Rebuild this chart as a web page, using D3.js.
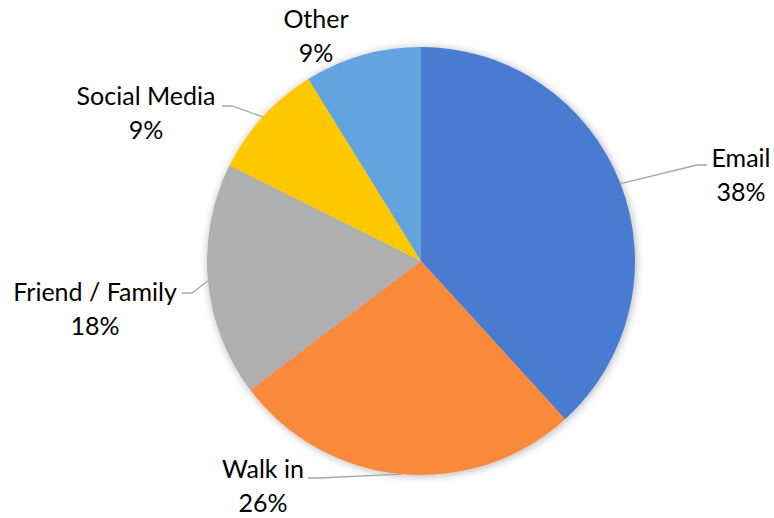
<!DOCTYPE html>
<html>
<head>
<meta charset="utf-8">
<script src="https://cdn.jsdelivr.net/npm/d3@7"></script>
<style>
  body { margin: 0; background: #fff; }
  text { font-family: Lato, "Open Sans", sans-serif; fill: #000; }
</style>
</head>
<body>
<div id="chart"></div>
<script>
// data: survey responses (how people heard about us)
var categories = ["Email", "Walk in", "Friend / Family", "Social Media", "Other"];
var counts = [13, 9, 6, 3, 3];
var colors = ["#4a7bd1", "#f98a3a", "#afafaf", "#fec805", "#62a3e0"];

// label layout: text centre x, first baseline y, leader end point
var labelX = [741, 263, 95, 146, 316];
var labelY = [167, 478, 301, 105, 28];
var leaderEnd = [[707, 165], [308, 478], [182, 293], [222, 106], null];

var width = 774, height = 518;
var cx = 421, cy = 261, radius = 214;

var svg = d3.select("#chart").append("svg")
    .attr("width", width)
    .attr("height", height);

var defs = svg.append("defs");
var filter = defs.append("filter")
    .attr("id", "shadow")
    .attr("x", "-20%").attr("y", "-20%")
    .attr("width", "140%").attr("height", "140%");
filter.append("feDropShadow")
    .attr("dx", 1).attr("dy", 1)
    .attr("stdDeviation", 4)
    .attr("flood-color", "#000")
    .attr("flood-opacity", 0.3);

var total = d3.sum(counts);
var data = categories.map(function(c, i) {
    return { name: c, value: counts[i], color: colors[i] };
});

var pie = d3.pie()
    .sort(null)
    .value(function(d) { return d.value; });

var arc = d3.arc()
    .innerRadius(0)
    .outerRadius(radius);

var arcs = pie(data);

var g = svg.append("g")
    .attr("transform", "translate(" + cx + "," + cy + ")");

g.append("g")
    .attr("filter", "url(#shadow)")
    .selectAll("path")
    .data(arcs)
    .enter().append("path")
    .attr("d", arc)
    .attr("fill", function(d) { return d.data.color; });

// leader lines from the slice's mid-angle on the rim
arcs.forEach(function(d, i) {
    var end = leaderEnd[i];
    if (!end) return;
    var mid = (d.startAngle + d.endAngle) / 2;
    var sx = cx + radius * Math.sin(mid),
        sy = cy - radius * Math.cos(mid);
    // elbow sits 10px toward the pie from the end point
    var elbow = [end[0] + (end[0] > cx ? -10 : 10), end[1]];
    svg.append("polyline")
        .attr("points", [[sx, sy], elbow, end].map(function(p) { return p.join(","); }).join(" "))
        .attr("fill", "none")
        .attr("stroke", "#a6a6a6")
        .attr("stroke-width", 1.3);
});

// labels
arcs.forEach(function(d, i) {
    var t = svg.append("text")
        .attr("text-anchor", "middle")
        .attr("font-size", 25);
    t.append("tspan")
        .attr("x", labelX[i])
        .attr("y", labelY[i])
        .text(d.data.name);
    t.append("tspan")
        .attr("x", labelX[i])
        .attr("y", labelY[i] + 34)
        .text(Math.round(d.data.value / total * 100) + "%");
});
</script>
</body>
</html>
